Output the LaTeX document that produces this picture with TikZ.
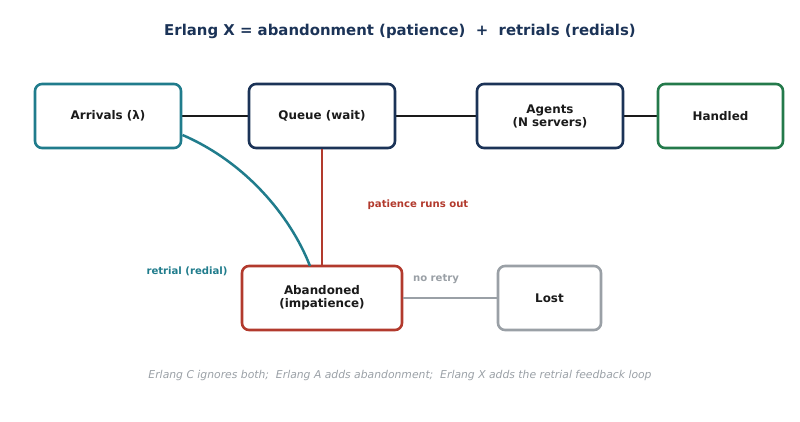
\documentclass[tikz,border=0pt]{standalone}
\usepackage{fontspec}
\setmainfont{DejaVu Sans}
\begin{document}
\begin{tikzpicture}[x=1pt,y=-1pt,
  box/.style={draw, rounded corners=7pt, line width=2.6pt, fill=white, minimum height=64pt, align=center, font=\bfseries\fontsize{11.9}{13}\selectfont, text=textdark},
  conn/.style={line width=2.5pt},
  lbl/.style={font=\bfseries\fontsize{10.1}{12}\selectfont}]
\definecolor{navy}{HTML}{1B3357}
\definecolor{teal}{HTML}{207C8C}
\definecolor{green}{HTML}{247A4B}
\definecolor{red}{HTML}{B23A2D}
\definecolor{gray}{HTML}{9AA0A6}
\definecolor{textdark}{HTML}{1A1A1A}
\useasboundingbox (0,0) rectangle (800,422);
\node[font=\bfseries\fontsize{14.9}{18}\selectfont, text=navy] (title) at (400,31) {Erlang X = abandonment (patience)\ \ +\ \ retrials (redials)};
\draw[conn, textdark] (181,116) -- (249,116);
\draw[conn, textdark] (395,116) -- (477,116);
\draw[conn, textdark] (623,116) -- (658,116);
\node[box, draw=teal, minimum width=146pt] (arr) at (108,116) {Arrivals (λ)};
\node[box, draw=navy, minimum width=146pt] (que) at (322,116) {Queue (wait)};
\node[box, draw=navy, minimum width=146pt] (agt) at (550,116) {Agents\\(N servers)};
\node[box, draw=green, minimum width=125pt] (hnd) at (720.5,116) {Handled};
\node[box, draw=red, minimum width=160pt] (abn) at (322,298) {Abandoned\\(impatience)};
\node[box, draw=gray, minimum width=103pt] (lost) at (549.5,298) {Lost};
\draw[conn, red] (que.south) -- (abn.north);
\draw[conn, gray] (abn.east) -- (lost.west);
\coordinate (cs) at (182.5,135);
\coordinate (ce) at (310,266);
\draw[conn, teal] (cs) .. controls (245,162) and (290,215) .. (ce);
\node[lbl, text=red] (l1) at (418,205) {patience runs out};
\node[lbl, text=teal] (l2) at (187,271.5) {retrial (redial)};
\node[lbl, text=gray] (l3) at (436,279) {no retry};
\node[font=\itshape\fontsize{10.8}{13}\selectfont, text=gray] (foot) at (400,376) {Erlang C ignores both;\ \ Erlang A adds abandonment;\ \ Erlang X adds the retrial feedback loop};
\end{tikzpicture}
\end{document}
